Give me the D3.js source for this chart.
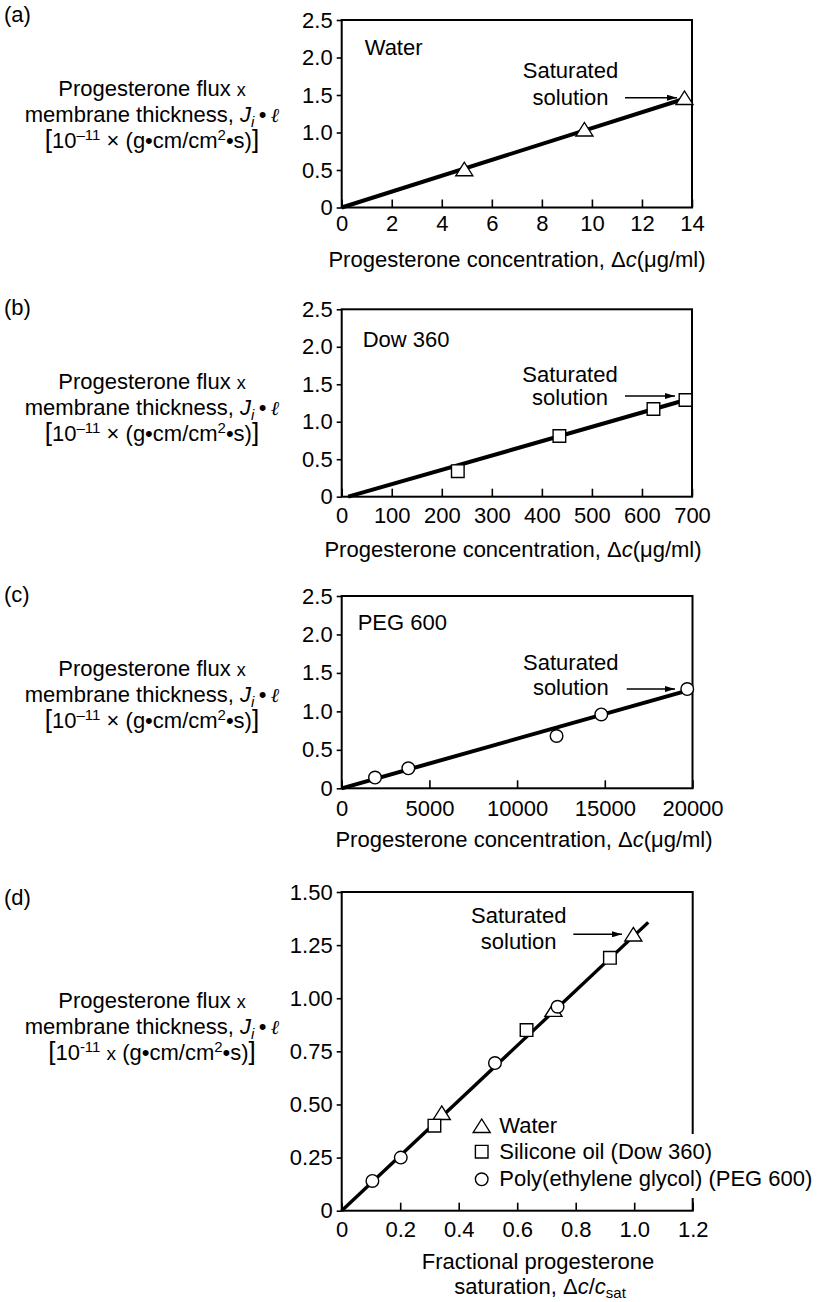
<!DOCTYPE html>
<html>
<head>
<meta charset="utf-8">
<script src="https://cdn.jsdelivr.net/npm/d3@7"></script>
<style>
body { margin: 0; background: #fff; }
text { font-family: "Liberation Sans", Arial, Helvetica, sans-serif; font-size: 22px; fill: #000; }
</style>
</head>
<body>
<svg id="chart"></svg>
<script>
var width = 822, height = 1302;

// (a) water
var waterConc = [4.9, 9.7, 13.7];
var waterFlux = [0.51, 1.04, 1.46];
var waterFit = [[0, 0], [13.7, 1.45]];
var waterXTicks = [0, 2, 4, 6, 8, 10, 12, 14];
var waterXLabels = ["0", "2", "4", "6", "8", "10", "12", "14"];

// (b) silicone oil, Dow 360
var dowConc = [232, 435, 623, 687];
var dowFlux = [0.34, 0.81, 1.17, 1.29];
var dowFit = [[13, 0], [687, 1.29]];
var dowXTicks = [0, 100, 200, 300, 400, 500, 600, 700];
var dowXLabels = ["0", "100", "200", "300", "400", "500", "600", "700"];

// (c) PEG 600
var pegConc = [1900, 3800, 12250, 14800, 19700];
var pegFlux = [0.14, 0.26, 0.68, 0.96, 1.29];
var pegFit = [[0, 0], [19700, 1.27]];
var pegXTicks = [0, 5000, 10000, 15000, 20000];
var pegXLabels = ["0", "5000", "10000", "15000", "20000"];

var fluxTicks = [0, 0.5, 1.0, 1.5, 2.0, 2.5];
var fluxLabels = ["0", "0.5", "1.0", "1.5", "2.0", "2.5"];

// (d) fractional saturation, all three solvents
var waterFrac = [0.342, 0.724, 0.997];
var waterFracFlux = [0.46, 0.945, 1.30];
var dowFrac = [0.317, 0.632, 0.917];
var dowFracFlux = [0.40, 0.85, 1.19];
var pegFrac = [0.105, 0.202, 0.524, 0.738];
var pegFracFlux = [0.14, 0.25, 0.695, 0.96];
var fracFit = [[0, 0], [1.048, 1.357]];
var fracXTicks = [0, 0.2, 0.4, 0.6, 0.8, 1.0, 1.2];
var fracXLabels = ["0", "0.2", "0.4", "0.6", "0.8", "1.0", "1.2"];
var fracYTicks = [0, 0.25, 0.5, 0.75, 1.0, 1.25, 1.5];
var fracYLabels = ["0", "0.25", "0.50", "0.75", "1.00", "1.25", "1.50"];

var legendNames = ["Water", "Silicone oil (Dow 360)", "Poly(ethylene glycol) (PEG 600)"];
var legendKinds = ["triangle", "square", "circle"];

var svg = d3.select("#chart").attr("width", width).attr("height", height);

svg.append("defs").append("marker")
   .attr("id", "arrow")
   .attr("viewBox", "0 0 10 6")
   .attr("refX", 10).attr("refY", 3)
   .attr("markerWidth", 10).attr("markerHeight", 6)
   .attr("markerUnits", "userSpaceOnUse")
   .attr("orient", "auto")
   .append("path").attr("d", "M0,0 L10,3 L0,6 Z").attr("fill", "#000");

function symbolPath(kind) {
  if (kind == "triangle") return "M0,-7 L8.5,6.5 L-8.5,6.5 Z";
  if (kind == "square") return "M-6.3,-6.3 H6.3 V6.3 H-6.3 Z";
  return "M6.3,0 A6.3,6.3 0 1,1 -6.3,0 A6.3,6.3 0 1,1 6.3,0 Z";
}

var labelX = 152;

function fluxLabel(y0, plain) {
  var t1 = svg.append("text").attr("x", labelX).attr("y", y0).attr("text-anchor", "middle");
  t1.append("tspan").text("Progesterone flux ");
  t1.append("tspan").style("font-size", "18px").text("x");

  var t2 = svg.append("text").attr("x", labelX).attr("y", y0 + 26).attr("text-anchor", "middle");
  t2.append("tspan").text("membrane thickness, ");
  t2.append("tspan").style("font-style", "italic").text("J");
  t2.append("tspan").style("font-style", "italic").style("font-size", "15px").attr("dy", 5).text("i");
  t2.append("tspan").attr("dy", -5).text("\u2009\u2022\u2009");
  t2.append("tspan").style("font-style", "italic").style("font-family", "'DejaVu Serif', serif")
    .style("font-size", "20px").text("\u2113");

  var t3 = svg.append("text").attr("x", labelX).attr("y", y0 + 52).attr("text-anchor", "middle");
  t3.append("tspan").style("font-size", "26px").text("[");
  t3.append("tspan").text("10");
  t3.append("tspan").style("font-size", "15px").attr("dy", -8).text(plain ? "-11" : "\u201311");
  t3.append("tspan").attr("dy", 8).text(" ");
  t3.append("tspan").style("font-size", plain ? "19px" : "22px").text(plain ? "x" : "\u00d7");
  t3.append("tspan").text(" (g\u2022cm/cm");
  t3.append("tspan").style("font-size", "15px").attr("dy", -8).text("2");
  t3.append("tspan").attr("dy", 8).text("\u2022s)");
  t3.append("tspan").style("font-size", "26px").text("]");
}

function concTitle(cx, y0, gap) {
  var t = svg.append("text").attr("x", cx).attr("y", y0).attr("text-anchor", "middle");
  t.append("tspan").text("Progesterone concentration," + gap + "\u0394");
  t.append("tspan").style("font-style", "italic").text("c");
  t.append("tspan").text("(\u03bcg/ml)");
}

function drawPanel(p) {
  var x = d3.scaleLinear().domain(p.xDomain).range([p.left, p.right]);
  var y = d3.scaleLinear().domain(p.yDomain).range([p.bottom, p.top]);
  var g = svg.append("g");

  g.append("rect")
   .attr("x", p.left).attr("y", p.top)
   .attr("width", p.right - p.left).attr("height", p.bottom - p.top)
   .attr("fill", "none").attr("stroke", "#000").attr("stroke-width", 2);

  g.append("g")
   .attr("transform", "translate(0," + p.bottom + ")")
   .call(d3.axisBottom(x).tickValues(p.xTicks).tickFormat((d, i) => p.xLabels[i])
          .tickSizeInner(-8).tickSizeOuter(0).tickPadding(p.xPad))
   .call(a => a.select(".domain").remove())
   .call(a => a.selectAll("line").attr("stroke-width", 1.6));

  g.append("g")
   .attr("transform", "translate(" + p.left + ",0)")
   .call(d3.axisLeft(y).tickValues(p.yTicks).tickFormat((d, i) => p.yLabels[i])
          .tickSizeInner(5).tickSizeOuter(0).tickPadding(4))
   .call(a => a.select(".domain").remove())
   .call(a => a.selectAll("line").attr("stroke-width", 1.6));

  if (p.blank) {
    g.append("rect").attr("x", p.blank[0]).attr("y", p.blank[1])
     .attr("width", p.blank[2]).attr("height", p.blank[3]).attr("fill", "#fff");
  }

  var line = d3.line().x(d => x(d[0])).y(d => y(d[1]));
  g.append("path").datum(p.fit)
   .attr("d", line)
   .attr("fill", "none").attr("stroke", "#000").attr("stroke-width", p.lineW);

  p.series.forEach(function(s) {
    g.selectAll(null)
     .data(d3.zip(s.x, s.y))
     .enter()
     .append("path")
     .attr("d", symbolPath(s.kind))
     .attr("transform", d => "translate(" + x(d[0]) + "," + y(d[1]) + ")")
     .attr("fill", "#fff").attr("stroke", "#000").attr("stroke-width", 1.4);
  });

  if (p.name) {
    g.append("text").attr("x", p.left + p.name[1]).attr("y", p.top + p.name[2]).text(p.name[0]);
  }

  var s = p.sat;
  g.append("text").attr("x", s.cx).attr("y", s.y1).attr("text-anchor", "middle").text("Saturated");
  g.append("text").attr("x", s.cx).attr("y", s.y2).attr("text-anchor", "middle").text("solution");
  g.append("line")
   .attr("x1", s.ax1).attr("x2", s.ax2).attr("y1", s.ay).attr("y2", s.ay)
   .attr("stroke", "#000").attr("stroke-width", 1.5)
   .attr("marker-end", "url(#arrow)");

  svg.append("text").attr("x", 4).attr("y", p.tagY).text(p.tag);
  return {x: x, y: y};
}

drawPanel({
  tag: "(a)", tagY: 22,
  left: 341.7, right: 692, top: 20, bottom: 207.5,
  xDomain: [0, 14], yDomain: [0, 2.5],
  xTicks: waterXTicks, xLabels: waterXLabels, xPad: 8,
  yTicks: fluxTicks, yLabels: fluxLabels,
  fit: waterFit, lineW: 4,
  series: [{x: waterConc, y: waterFlux, kind: "triangle"}],
  name: ["Water", 23, 35],
  sat: {cx: 570.5, y1: 78, y2: 105, ax1: 625, ax2: 677, ay: 97.7}
});
fluxLabel(96, false);
concTitle(517, 267, " ");

drawPanel({
  tag: "(b)", tagY: 315,
  left: 341.7, right: 692, top: 309.3, bottom: 496.7,
  xDomain: [0, 700], yDomain: [0, 2.5],
  xTicks: dowXTicks, xLabels: dowXLabels, xPad: 11,
  yTicks: fluxTicks, yLabels: fluxLabels,
  fit: dowFit, lineW: 4,
  series: [{x: dowConc, y: dowFlux, kind: "square"}],
  name: ["Dow 360", 21, 37.4],
  sat: {cx: 570, y1: 381.7, y2: 405, ax1: 625, ax2: 675, ay: 396}
});
fluxLabel(389, false);
concTitle(513, 557, "  ");

drawPanel({
  tag: "(c)", tagY: 602,
  left: 341.7, right: 692.5, top: 596, bottom: 788.3,
  xDomain: [0, 20000], yDomain: [0, 2.5],
  xTicks: pegXTicks, xLabels: pegXLabels, xPad: 12,
  yTicks: fluxTicks, yLabels: fluxLabels,
  fit: pegFit, lineW: 4,
  series: [{x: pegConc, y: pegFlux, kind: "circle"}],
  name: ["PEG 600", 16, 34],
  sat: {cx: 570.8, y1: 670, y2: 695, ax1: 626.7, ax2: 675, ay: 689}
});
fluxLabel(676, false);
concTitle(524, 847, " ");

drawPanel({
  tag: "(d)", tagY: 905,
  left: 341.7, right: 692.7, top: 892, bottom: 1210.7,
  xDomain: [0, 1.2], yDomain: [0, 1.5],
  xTicks: fracXTicks, xLabels: fracXLabels, xPad: 11,
  yTicks: fracYTicks, yLabels: fracYLabels,
  fit: fracFit, lineW: 3.4,
  blank: [495, 1134, 330, 64],
  series: [
    {x: waterFrac, y: waterFracFlux, kind: "triangle"},
    {x: dowFrac, y: dowFracFlux, kind: "square"},
    {x: pegFrac, y: pegFracFlux, kind: "circle"}
  ],
  sat: {cx: 518.7, y1: 923, y2: 949, ax1: 573.3, ax2: 622, ay: 934.3}
});
fluxLabel(1008, true);

// legend of panel (d)
var legendY = [1126, 1151.7, 1179.3];
var legend = svg.append("g");
legend.selectAll("path")
  .data(legendKinds)
  .enter()
  .append("path")
  .attr("d", d => symbolPath(d))
  .attr("transform", (d, i) => "translate(481.7," + legendY[i] + ")")
  .attr("fill", "#fff").attr("stroke", "#000").attr("stroke-width", 1.4);
legend.selectAll("text")
  .data(legendNames)
  .enter()
  .append("text")
  .attr("x", 499.3)
  .attr("y", (d, i) => legendY[i] + 7)
  .text(d => d);

// title of panel (d)
svg.append("text").attr("x", 538).attr("y", 1269).attr("text-anchor", "middle").text("Fractional progesterone");
var dt = svg.append("text").attr("x", 540).attr("y", 1294).attr("text-anchor", "middle");
dt.append("tspan").text("saturation, \u0394");
dt.append("tspan").style("font-style", "italic").text("c");
dt.append("tspan").text("/");
dt.append("tspan").style("font-style", "italic").text("c");
dt.append("tspan").style("font-size", "15px").attr("dy", 4).text("sat");
</script>
</body>
</html>
